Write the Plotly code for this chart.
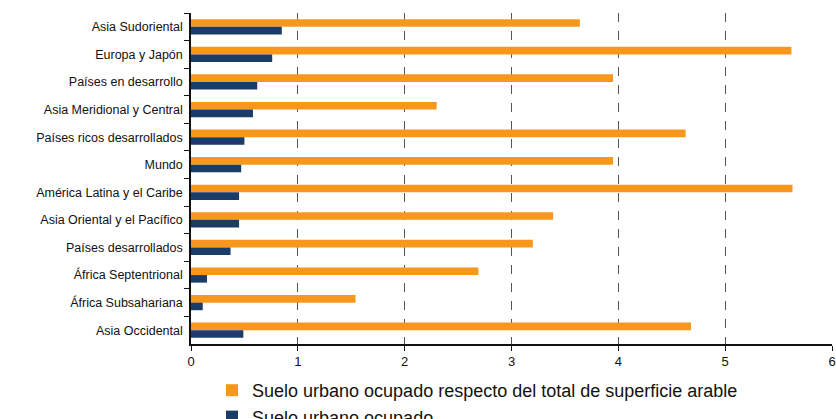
import plotly.graph_objects as go

regions = [
    "Asia Sudoriental",
    "Europa y Japón",
    "Países en desarrollo",
    "Asia Meridional y Central",
    "Países ricos desarrollados",
    "Mundo",
    "América Latina y el Caribe",
    "Asia Oriental y el Pacífico",
    "Países desarrollados",
    "África Septentrional",
    "África Subsahariana",
    "Asia Occidental",
]
urbano_vs_arable = [3.64, 5.62, 3.95, 2.30, 4.63, 3.95, 5.63, 3.39, 3.20, 2.69, 1.54, 4.68]
urbano_ocupado = [0.85, 0.76, 0.62, 0.58, 0.50, 0.47, 0.45, 0.45, 0.37, 0.15, 0.11, 0.49]

ORANGE = "#f7981d"
NAVY = "#1b3c66"

fig = go.Figure()
fig.add_trace(go.Bar(
    y=regions, x=urbano_vs_arable, orientation="h",
    name="Suelo urbano ocupado respecto del total de superficie arable",
    marker=dict(color=ORANGE, line=dict(width=0)),
))
fig.add_trace(go.Bar(
    y=regions, x=urbano_ocupado, orientation="h",
    name="Suelo urbano ocupado",
    marker=dict(color=NAVY, line=dict(width=0)),
))

fig.update_layout(
    width=836, height=419,
    margin=dict(l=191, r=4, t=13, b=75, autoexpand=False),
    paper_bgcolor="white", plot_bgcolor="white",
    font=dict(family="Liberation Sans, Arial, sans-serif", size=12.5, color="#111111"),
    barmode="group", bargap=0.45, bargroupgap=0.0,
    showlegend=True,
    legend=dict(
        orientation="v", x=212 / 836, xref="container", xanchor="left",
        y=1 - 372 / 419, yref="container", yanchor="top",
        font=dict(size=18, color="#111111"), itemsizing="constant",
        tracegroupgap=0, bgcolor="rgba(0,0,0,0)",
    ),
)
fig.update_xaxes(
    range=[0, 6], dtick=1, tick0=0,
    showline=True, linecolor="#111111", linewidth=1.5,
    ticks="outside", ticklen=5, tickcolor="#111111",
    showgrid=True, gridcolor="#555555", griddash="dash", gridwidth=1,
    zeroline=False, tickfont=dict(size=13),
)
fig.update_yaxes(
    autorange="reversed",
    showline=True, linecolor="#111111", linewidth=1.5,
    ticks="outside", ticklen=5, tickcolor="#111111", tickson="boundaries",
    showgrid=False, ticklabelstandoff=4,
)

fig.write_html("out.html")
